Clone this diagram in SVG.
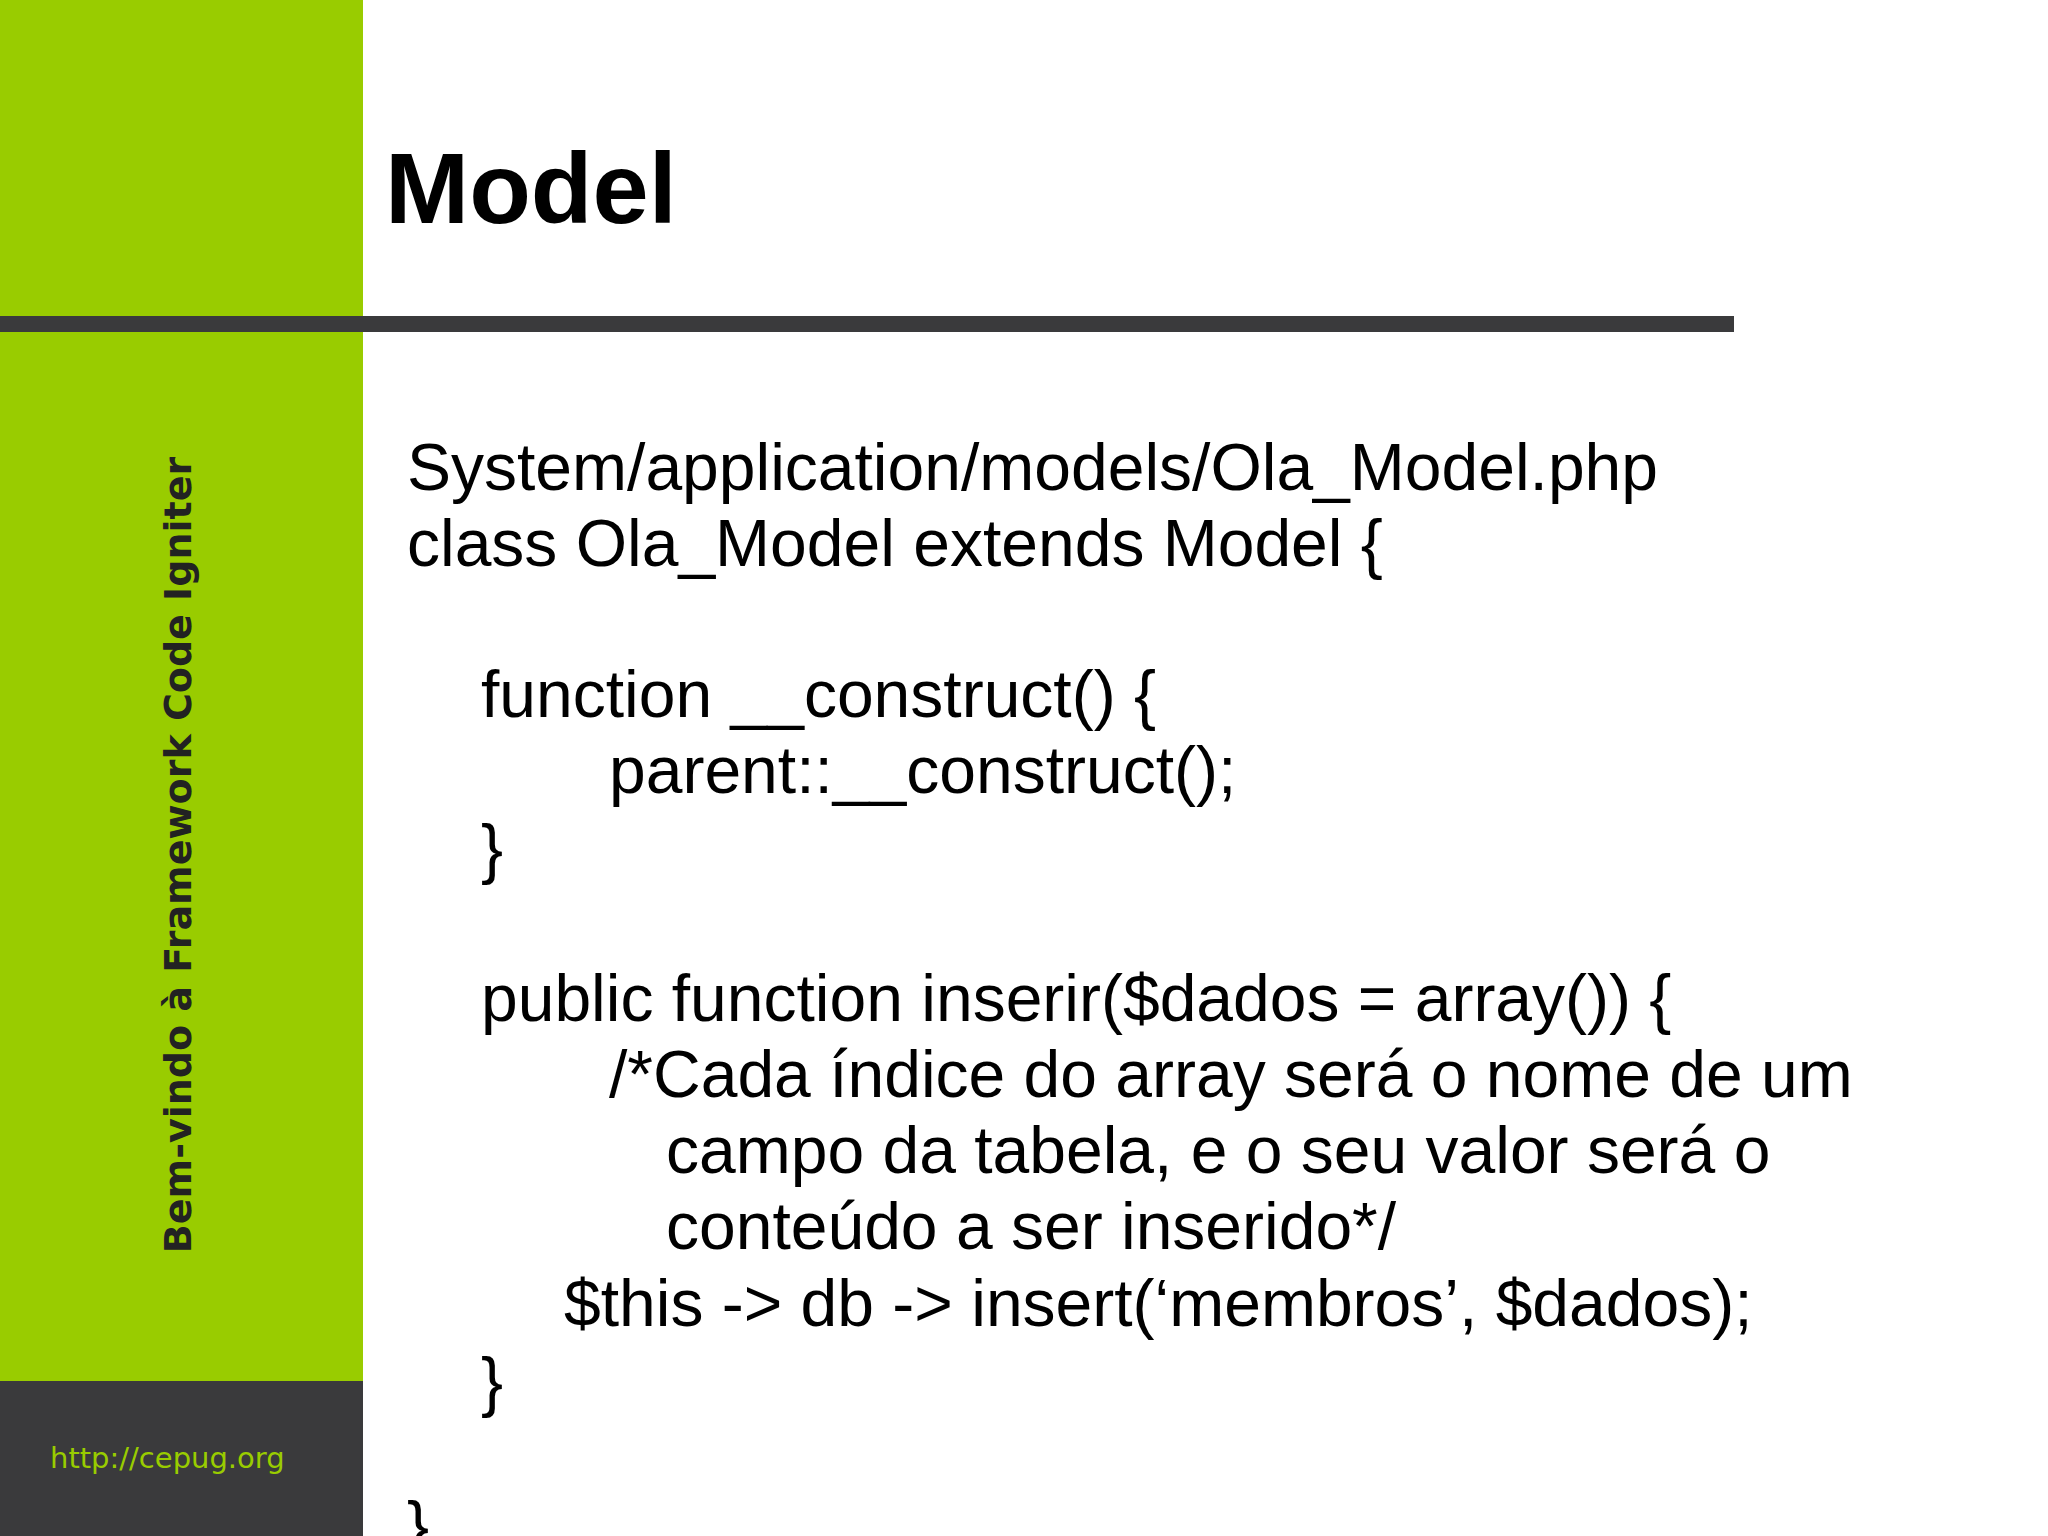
<svg xmlns="http://www.w3.org/2000/svg" width="2048" height="1536" viewBox="0 0 2048 1536">
<style>
.code{font-family:"Liberation Sans",Arial,sans-serif;font-size:66px;fill:#000}
</style>
<rect width="2048" height="1536" fill="#fff"/>
<rect x="0" y="0" width="363" height="1381" fill="#99cc00"/>
<rect x="0" y="1381" width="363" height="155" fill="#3a3a3c"/>
<rect x="0" y="316" width="1734" height="16" fill="#3a3a3c"/>
<text x="385" y="223" font-family="Liberation Sans,Arial,sans-serif" font-weight="bold" font-size="101">Model</text>
<text transform="translate(191,855) rotate(-90)" text-anchor="middle" font-family="DejaVu Sans,sans-serif" font-weight="bold" font-size="38" fill="#222">Bem-vindo à Framework Code Igniter</text>
<text x="50" y="1468" font-family="DejaVu Sans,sans-serif" font-size="29" fill="#99cc00">http://cepug.org</text>
<g class="code">
<text class="code" x="407" y="490">System/application/models/Ola_Model.php</text>
<text class="code" x="407" y="566">class Ola_Model extends Model {</text>
<text class="code" x="481" y="717">function __construct() {</text>
<text class="code" x="609" y="793">parent::__construct();</text>
<text class="code" x="481" y="871">}</text>
<text class="code" x="481" y="1021">public function inserir($dados = array()) {</text>
<text class="code" x="609" y="1097">/*Cada índice do array será o nome de um</text>
<text class="code" x="666" y="1173">campo da tabela, e o seu valor será o</text>
<text class="code" x="666" y="1249">conteúdo a ser inserido*/</text>
<text class="code" x="564" y="1326">$this -&gt; db -&gt; insert(‘membros’, $dados);</text>
<text class="code" x="481" y="1404">}</text>
<text class="code" x="407" y="1548">}</text>
</g>
</svg>
